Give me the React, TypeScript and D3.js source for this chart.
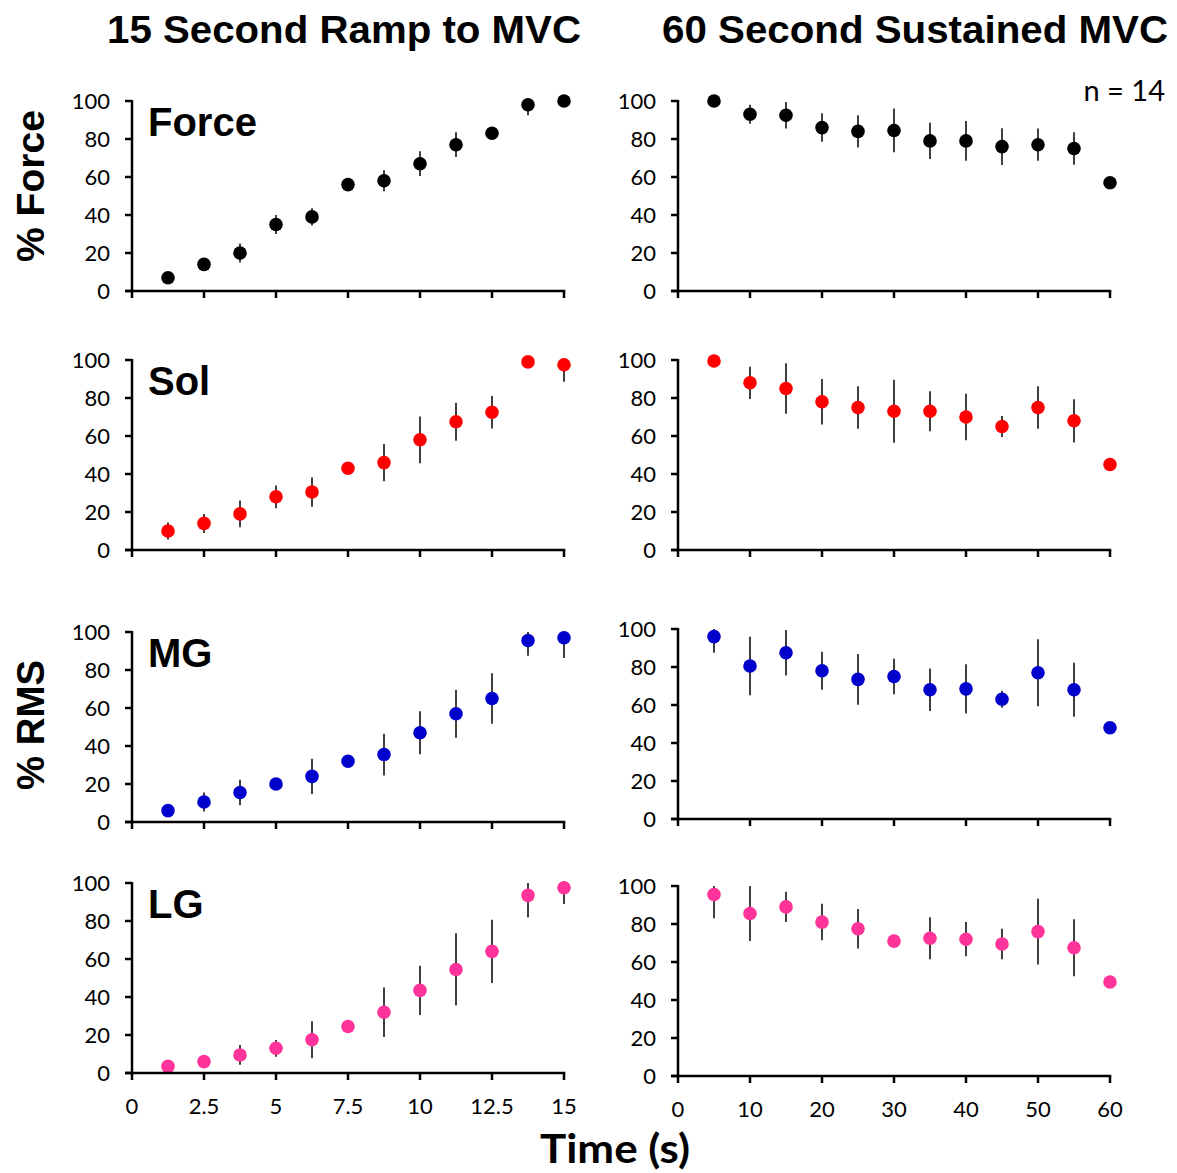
import React from "react";
import * as d3 from "d3";

const rampTimes = [1.25, 2.5, 3.75, 5, 6.25, 7.5, 8.75, 10, 11.25, 12.5, 13.75, 15];
const sustTimes = [5, 10, 15, 20, 25, 30, 35, 40, 45, 50, 55, 60];
const rampTicks = [0, 2.5, 5, 7.5, 10, 12.5, 15];
const sustTicks = [0, 10, 20, 30, 40, 50, 60];
const yTicks = [0, 20, 40, 60, 80, 100];

const muscles = ["Force", "Sol", "MG", "LG"];
const colors = ["#000000", "#FF0000", "#0000CC", "#FF3399"];

const forceRamp = [7, 14, 20, 35, 39, 56, 58, 67, 77, 83, 98, 100];
const forceRampErr = [2, 3, 5, 5, 4.5, 2, 5.5, 6.5, 6.5, 2, 5.5, 0];
const forceSust = [100, 93, 92.5, 86, 84, 84.5, 79, 79, 76, 77, 75, 57];
const forceSustErr = [0, 5, 7, 7.5, 8.5, 11.5, 9.5, 10.5, 9.7, 8.5, 8.5, 0];

const solRamp = [10, 14, 19, 28, 30.5, 43, 46, 58, 67.5, 72.5, 99, 97.5];
const solRampErr = [4.5, 5, 7, 6, 7.7, 2, 9.8, 12.3, 10, 8.5, 0, 9];
const solSust = [99.5, 88, 85, 78, 75, 73, 73, 70, 65, 75, 68, 45];
const solSustErr = [0, 8.5, 13.3, 12, 11.2, 16.6, 10.5, 12.2, 5.5, 11.2, 11.4, 0];

const mgRamp = [6, 10.5, 15.5, 20, 24, 32, 35.5, 47, 57, 65, 95.5, 97];
const mgRampErr = [1, 5, 6.7, 2, 9.3, 2, 11, 11.3, 12.6, 13.3, 8, 10.7];
const mgSust = [96, 80.5, 87.5, 78, 73.5, 75, 68, 68.5, 63, 77, 68, 48];
const mgSustErr = [8.5, 15.4, 12, 10, 13.4, 9.3, 11.2, 13, 4.5, 17.6, 14.2, 0];

const lgRamp = [3.5, 6, 9.5, 13, 17.5, 24.5, 32, 43.5, 54.5, 64, 93.5, 97.5];
const lgRampErr = [1, 1.5, 5.2, 4.4, 9.7, 2, 13, 13, 19, 16.6, 11.7, 8.5];
const lgSust = [95.5, 85.5, 89, 81, 77.5, 71, 72.5, 72, 69.5, 76, 67.5, 49.5];
const lgSustErr = [12.5, 14.5, 8, 9.6, 10.4, 2, 11, 9, 8, 17.3, 15, 0];

const rampSeries = [forceRamp, solRamp, mgRamp, lgRamp];
const rampErrs = [forceRampErr, solRampErr, mgRampErr, lgRampErr];
const sustSeries = [forceSust, solSust, mgSust, lgSust];
const sustErrs = [forceSustErr, solSustErr, mgSustErr, lgSustErr];

const tickFont = "Lato, 'Open Sans', sans-serif";
const boldFont = "'Liberation Sans', Arial, sans-serif";

// layout: row pixel ranges [top(100), bottom(0)] for left and right columns
const leftRows: [number, number][] = [[101, 291], [360, 550], [632, 822], [883, 1073]];
const rightRows: [number, number][] = [[101, 291], [360, 550], [629, 819], [886, 1076]];

type PanelProps = {
  xDomain: [number, number];
  xRange: [number, number];
  yRange: [number, number];
  xs: number[];
  ys: number[];
  errs: number[];
  color: string;
  xTicks: number[];
  showXLabels: boolean;
  label?: string;
};

function Panel({ xDomain, xRange, yRange, xs, ys, errs, color, xTicks, showXLabels, label }: PanelProps) {
  const x = d3.scaleLinear().domain(xDomain).range(xRange);
  const y = d3.scaleLinear().domain([0, 100]).range([yRange[1], yRange[0]]);
  const x0 = xRange[0];
  const y0 = y(0);
  const tickLen = 7;
  const clip = (v: number) => Math.max(0, Math.min(100, v));
  return (
    <g>
      {xs.map((t, i) =>
        errs[i] > 0 ? (
          <line
            key={"e" + i}
            x1={x(t)}
            x2={x(t)}
            y1={y(clip(ys[i] - errs[i]))}
            y2={y(clip(ys[i] + errs[i]))}
            stroke="#000"
            strokeWidth={1.5}
          />
        ) : null
      )}
      {xs.map((t, i) => (
        <circle key={"c" + i} cx={x(t)} cy={y(ys[i])} r={6.8} fill={color} />
      ))}
      <line x1={x0} x2={x0} y1={y(100) - 1} y2={y0 + 1.25} stroke="#000" strokeWidth={2.5} />
      {yTicks.map((v) => (
        <g key={"yt" + v}>
          <line x1={x0 - tickLen} x2={x0} y1={y(v)} y2={y(v)} stroke="#000" strokeWidth={2.5} />
          <text
            x={x0 - 22}
            y={y(v)}
            dy="0.36em"
            textAnchor="end"
            fontFamily={tickFont}
            fontSize={22}
            fill="#000"
          >
            {v}
          </text>
        </g>
      ))}
      <line x1={x0 - tickLen} x2={xRange[1] + 1.25} y1={y0} y2={y0} stroke="#000" strokeWidth={2.5} />
      {xTicks.map((v) => (
        <g key={"xt" + v}>
          <line x1={x(v)} x2={x(v)} y1={y0} y2={y0 + tickLen} stroke="#000" strokeWidth={2.5} />
          {showXLabels ? (
            <text
              x={x(v)}
              y={y0 + 33}
              dy="0.36em"
              textAnchor="middle"
              fontFamily={tickFont}
              fontSize={22}
              fill="#000"
            >
              {v}
            </text>
          ) : null}
        </g>
      ))}
      {label ? (
        <text x={148} y={y(100) + 35} fontFamily={boldFont} fontWeight="bold" fontSize={40} fill="#000">
          {label}
        </text>
      ) : null}
    </g>
  );
}

export default function App() {
  return (
    <svg
      width={1177}
      height={1173}
      style={{ position: "absolute", left: 0, top: 0, background: "#fff" }}
    >
      <rect x={0} y={0} width={1177} height={1173} fill="#fff" />
      <text
        x={344}
        y={43}
        textAnchor="middle"
        fontFamily={boldFont}
        fontWeight="bold"
        fontSize={39}
        textLength={474}
        lengthAdjust="spacingAndGlyphs"
      >
        15 Second Ramp to MVC
      </text>
      <text
        x={915}
        y={43}
        textAnchor="middle"
        fontFamily={boldFont}
        fontWeight="bold"
        fontSize={39}
        textLength={506}
        lengthAdjust="spacingAndGlyphs"
      >
        60 Second Sustained MVC
      </text>
      <text
        transform="translate(44,186) rotate(-90)"
        textAnchor="middle"
        fontFamily={boldFont}
        fontWeight="bold"
        fontSize={38}
        textLength={152}
        lengthAdjust="spacingAndGlyphs"
      >
        % Force
      </text>
      <text
        transform="translate(44,725) rotate(-90)"
        textAnchor="middle"
        fontFamily={boldFont}
        fontWeight="bold"
        fontSize={38}
        textLength={130}
        lengthAdjust="spacingAndGlyphs"
      >
        % RMS
      </text>
      <text x={1165} y={101} textAnchor="end" fontFamily={tickFont} fontSize={29} fill="#000">
        n = 14
      </text>
      <text
        x={615}
        y={1163}
        textAnchor="middle"
        fontFamily={tickFont}
        fontWeight="bold"
        fontSize={40}
        textLength={150}
        lengthAdjust="spacingAndGlyphs"
      >
        Time (s)
      </text>
      {muscles.map((m, r) => (
        <g key={m}>
          <Panel
            xDomain={[0, 15]}
            xRange={[132, 564]}
            yRange={leftRows[r]}
            xs={rampTimes}
            ys={rampSeries[r]}
            errs={rampErrs[r]}
            color={colors[r]}
            xTicks={rampTicks}
            showXLabels={r === 3}
            label={m}
          />
          <Panel
            xDomain={[0, 60]}
            xRange={[678, 1110]}
            yRange={rightRows[r]}
            xs={sustTimes}
            ys={sustSeries[r]}
            errs={sustErrs[r]}
            color={colors[r]}
            xTicks={sustTicks}
            showXLabels={r === 3}
          />
        </g>
      ))}
    </svg>
  );
}
